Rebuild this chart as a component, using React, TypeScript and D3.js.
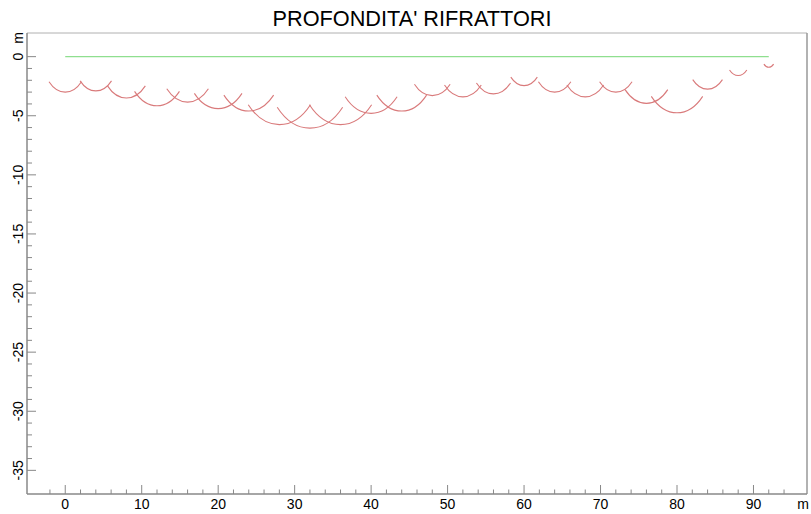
import React from 'react';
import * as d3 from 'd3';

// refractor arcs: geophone position (m) and depth (m)
const stations = [0, 4, 8, 12, 16, 20, 24, 28, 32, 36, 40, 44, 48, 52, 56, 60, 64, 68, 72, 76, 80, 84, 88, 92];
const depths = [3.0, 2.9, 3.5, 4.15, 3.85, 4.4, 4.6, 5.75, 6.05, 5.75, 4.8, 4.6, 3.3, 3.4, 3.15, 2.45, 3.0, 3.4, 3.0, 3.95, 4.75, 2.75, 1.6, 0.9];

const xTickLabels = [0, 10, 20, 30, 40, 50, 60, 70, 80, 90];
const yTickLabels = [0, -5, -10, -15, -20, -25, -30, -35];

const W = 811;
const H = 514;
const left = 27, right = 807, top = 33, bottom = 494;

const FONT = '"Liberation Sans", Arial, sans-serif';

const App: React.FC = () => {
  const x = d3.scaleLinear().domain([-5, 97]).range([left, right]);
  const y = d3.scaleLinear().domain([2, -37]).range([top, bottom]);

  const kx = x(1) - x(0);
  const ky = y(-1) - y(0);
  const half = Math.PI / 4; // arcs span +-45 deg around vertical

  const arcPath = (cx: number, r: number) => {
    const x0 = x(cx - r * Math.sin(half));
    const x1 = x(cx + r * Math.sin(half));
    const yy = y(-r * Math.cos(half));
    return `M${x0},${yy}A${r * kx},${r * ky} 0 0 0 ${x1},${yy}`;
  };

  const xMinor = d3.range(-2, 95, 2);
  const yMinor = d3.range(0, -36, -1);

  return (
    <svg width={W} height={H} style={{ position: 'absolute', left: 0, top: 0, background: '#fff' }}>
      <text x={412} y={26} textAnchor="middle" fontFamily={FONT} fontSize={22} textLength={279} lengthAdjust="spacingAndGlyphs">
        PROFONDITA' RIFRATTORI
      </text>

      {/* frame */}
      <line x1={left} x2={right} y1={top} y2={top} stroke="#b0b0b0" />
      <line x1={right} x2={right} y1={top} y2={bottom} stroke="#999" strokeWidth={1.5} />
      <line x1={left} x2={left} y1={top} y2={bottom} stroke="#888" strokeWidth={1.5} />
      <line x1={left} x2={right} y1={bottom} y2={bottom} stroke="#888" strokeWidth={1.5} />

      {/* x ticks */}
      {xMinor.map(t => (
        <line key={`xt${t}`} x1={x(t)} x2={x(t)} y1={bottom} y2={bottom - (t % 10 === 0 ? 9 : 4.5)} stroke="#888" />
      ))}
      {xTickLabels.map(t => (
        <text key={`xl${t}`} x={x(t)} y={509} textAnchor="middle" fontFamily={FONT} fontSize={14}>{t}</text>
      ))}
      <text x={803} y={509} textAnchor="middle" fontFamily={FONT} fontSize={14}>m</text>

      {/* y ticks */}
      {yMinor.map(t => (
        <line key={`yt${t}`} x1={left} x2={left + (t % 5 === 0 ? 9 : 5)} y1={y(t)} y2={y(t)} stroke="#888" />
      ))}
      {yTickLabels.map(t => (
        <text key={`yl${t}`} transform={`translate(23,${y(t)}) rotate(-90)`} textAnchor="middle" fontFamily={FONT} fontSize={14}>{t}</text>
      ))}
      <text transform={`translate(23,38) rotate(-90)`} textAnchor="middle" fontFamily={FONT} fontSize={14}>m</text>

      {/* ground surface */}
      <line x1={x(stations[0])} x2={x(stations[stations.length - 1])} y1={y(0)} y2={y(0)} stroke="#8fdf8f" strokeWidth={1.2} />

      {/* refractor arcs */}
      <g fill="none" stroke="#d97a7b" strokeWidth={1.1}>
        {stations.map((s, i) => (
          <path key={`a${i}`} d={arcPath(s, depths[i])} />
        ))}
      </g>
    </svg>
  );
};

export default App;
